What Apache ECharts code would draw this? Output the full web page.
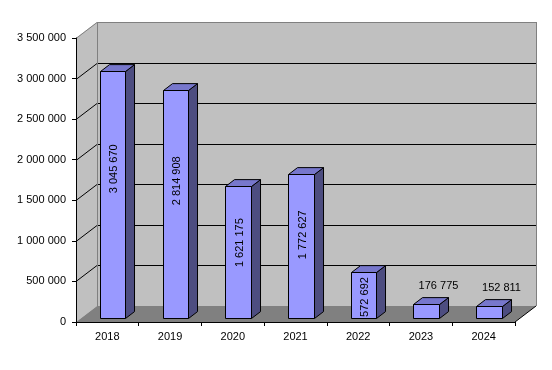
<!DOCTYPE html>
<html>
<head>
<meta charset="utf-8">
<script src="https://cdn.jsdelivr.net/npm/echarts@6/dist/echarts.min.js"></script>
<style>
html,body{margin:0;padding:0;background:#fff;}
#chart{width:552px;height:370px;}
</style>
</head>
<body>
<div id="chart"></div>
<script>
// ---- data ----
const categories = ['2018', '2019', '2020', '2021', '2022', '2023', '2024'];
const values = [3045670, 2814908, 1621175, 1772627, 572692, 176775, 152811];
const yTicks = [0, 500000, 1000000, 1500000, 2000000, 2500000, 3000000, 3500000];

// ---- style / layout constants ----
const FONT = '11px Arial, "Liberation Sans", sans-serif';
const DX = 21, DY = -16;          // depth of the 3D box
const BAR_T0 = 0.25, BAR_T1 = 0.68;
const BAR_W = 0.407;
const C_FRONT = '#9999ff', C_TOP = '#7777cc', C_SIDE = '#4d4d80';
const C_WALL = '#c0c0c0', C_FLOOR = '#808080', C_EDGE = '#808080';

function fmt(v) { return String(v).replace(/\B(?=(\d{3})+(?!\d))/g, ' '); }

const measureCtx = document.createElement('canvas').getContext('2d');
measureCtx.font = FONT;
function textW(t) { return measureCtx.measureText(t).width; }

const chart = echarts.init(document.getElementById('chart'), null, {renderer: 'canvas'});

function renderWalls(params, api) {
  const cs = params.coordSys;
  const x0 = cs.x, x1 = cs.x + cs.width;
  const yTop = api.coord([0, yTicks[yTicks.length - 1]])[1];
  const yBot = api.coord([0, 0])[1];
  const children = [];
  // side wall
  children.push({type: 'polygon', shape: {points: [[x0, yTop], [x0 + DX, yTop + DY], [x0 + DX, yBot + DY], [x0, yBot]]},
    style: {fill: C_WALL, stroke: null}});
  // back wall
  children.push({type: 'rect', shape: {x: x0 + DX, y: yTop + DY, width: cs.width, height: yBot - yTop},
    style: {fill: C_WALL, stroke: null}});
  // floor
  children.push({type: 'polygon', shape: {points: [[x0, yBot], [x0 + DX, yBot + DY], [x1 + DX, yBot + DY], [x1, yBot]]},
    style: {fill: C_FLOOR, stroke: null}});
  // gridlines
  yTicks.forEach(function (t, i) {
    if (i === 0 || i === yTicks.length - 1) return;
    const y = Math.round(api.coord([0, t])[1]) + 0.5;
    children.push({type: 'polyline', shape: {points: [[x0, y], [x0 + DX, y + DY], [x1 + DX, y + DY]]},
      style: {stroke: '#000', lineWidth: 1, fill: null}});
  });
  // edges
  const yt = Math.round(yTop) + 0.5;
  children.push({type: 'polyline', shape: {points: [[x0, yt], [x0 + DX, yt + DY], [x1 + DX + 0.5, yt + DY]]},
    style: {stroke: C_EDGE, lineWidth: 1, fill: null}});
  children.push({type: 'line', shape: {x1: x0 + DX + 0.5, y1: yTop + DY, x2: x0 + DX + 0.5, y2: yBot + DY},
    style: {stroke: C_EDGE, lineWidth: 1}});
  children.push({type: 'line', shape: {x1: x1 + DX + 0.5, y1: yTop + DY, x2: x1 + DX + 0.5, y2: yBot + DY},
    style: {stroke: C_EDGE, lineWidth: 1}});
  children.push({type: 'line', shape: {x1: x1, y1: yBot, x2: x1 + DX, y2: yBot + DY},
    style: {stroke: '#000', lineWidth: 1}});
  return {type: 'group', children: children};
}

function renderBar(params, api) {
  const idx = api.value(0);
  const v = api.value(1);
  const band = api.size([1, 0])[0];
  const base = api.coord([idx, 0]);
  const top = api.coord([idx, v]);
  const cx = top[0] + BAR_T0 * DX;
  const w = band * BAR_W;
  const x0 = Math.round(cx - w / 2) + 0.5, x1 = Math.round(cx + w / 2) + 0.5;
  const yt = Math.round(top[1] + BAR_T0 * DY) + 0.5;
  const yb = Math.round(base[1] + BAR_T0 * DY) + 0.5;
  const ddx = (BAR_T1 - BAR_T0) * DX, ddy = (BAR_T1 - BAR_T0) * DY;
  const line = {stroke: '#000', lineWidth: 1, lineJoin: 'miter'};
  const children = [
    {type: 'polygon', shape: {points: [[x1, yt], [x1 + ddx, yt + ddy], [x1 + ddx, yb + ddy], [x1, yb]]},
      style: Object.assign({fill: C_SIDE}, line)},
    {type: 'polygon', shape: {points: [[x0, yt], [x0 + ddx, yt + ddy], [x1 + ddx, yt + ddy], [x1, yt]]},
      style: Object.assign({fill: C_TOP}, line)},
    {type: 'rect', shape: {x: x0, y: yt, width: x1 - x0, height: yb - yt},
      style: Object.assign({fill: C_FRONT}, line)}
  ];
  const label = fmt(v);
  const tw = textW(label);
  if (tw + 4 < (yb - yt)) {
    const ly = api.coord([idx, v * 0.639 - 58000])[1];
    children.push({type: 'text', x: (x0 + x1) / 2 + 1, y: ly, rotation: Math.PI / 2,
      style: {text: label, fill: '#000', font: FONT, align: 'center', verticalAlign: 'middle'}});
  } else {
    children.push({type: 'text', x: (x0 + x1) / 2 + 12, y: yt - 19,
      style: {text: label, fill: '#000', font: FONT, align: 'center', verticalAlign: 'middle'}});
  }
  return {type: 'group', children: children};
}

const option = {
  animation: false,
  backgroundColor: '#ffffff',
  grid: {left: 76, right: 37, top: 38, bottom: 48},
  xAxis: {
    type: 'category',
    data: categories,
    boundaryGap: true,
    z: 10,
    axisLine: {show: true, lineStyle: {color: '#000', width: 1}},
    axisTick: {show: true, length: 4, lineStyle: {color: '#000'}},
    axisLabel: {color: '#000', fontSize: 11, fontFamily: 'Arial, "Liberation Sans", sans-serif', margin: 9},
    splitLine: {show: false}
  },
  yAxis: {
    type: 'value',
    min: yTicks[0],
    max: yTicks[yTicks.length - 1],
    interval: yTicks[1] - yTicks[0],
    z: 10,
    axisLine: {show: true, lineStyle: {color: '#000', width: 1}},
    axisTick: {show: true, length: 4, lineStyle: {color: '#000'}},
    axisLabel: {color: '#000', fontSize: 11, fontFamily: 'Arial, "Liberation Sans", sans-serif', margin: 10,
      formatter: function (v) { return fmt(v); }},
    splitLine: {show: false}
  },
  series: [
    {type: 'custom', name: 'walls', z: 1, silent: true, clip: false,
      data: [[0, 0]], renderItem: renderWalls},
    {type: 'custom', name: 'bars', z: 3, silent: true, clip: false,
      data: values.map(function (v, i) { return [i, v]; }), renderItem: renderBar}
  ]
};
chart.setOption(option);
</script>
</body>
</html>
